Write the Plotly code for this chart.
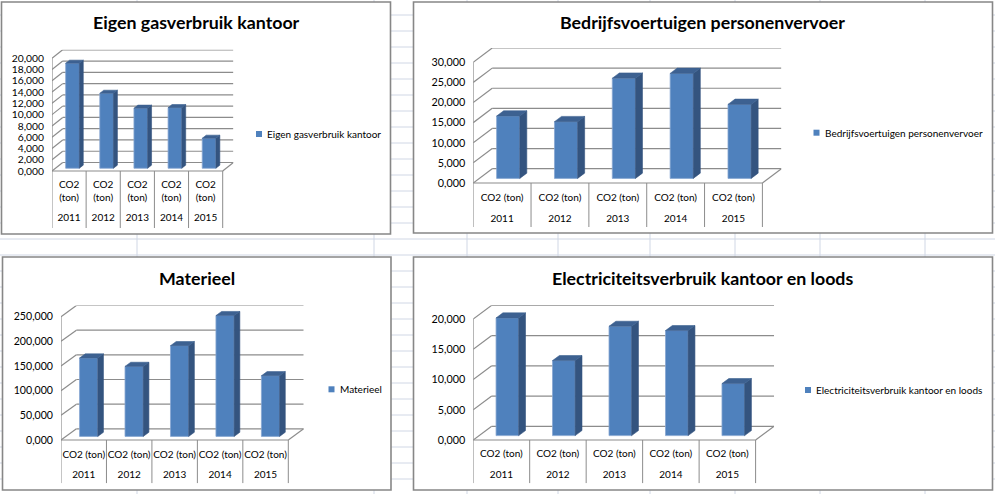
import plotly.graph_objects as go

W, H = 995, 494

# ---------------- data ----------------
years = ["2011", "2012", "2013", "2014", "2015"]
unit_label = "CO2 (ton)"
titles = ["Eigen gasverbruik kantoor",
          "Bedrijfsvoertuigen personenvervoer",
          "Materieel",
          "Electriciteitsverbruik kantoor en loods"]
gasverbruik = [18.63, 13.3, 10.65, 10.76, 5.32]
voertuigen = [15.5, 14.1, 24.9, 26.1, 18.4]
materieel = [159, 142, 184, 245, 123]
electriciteit = [19.45, 12.4, 18.07, 17.36, 8.6]
axis_max = [20, 30, 250, 20]
axis_step = [2, 5, 50, 5]
series = [gasverbruik, voertuigen, materieel, electriciteit]

# ---------------- layout geometry (pixels) ----------------
specs = [
    dict(box=(1.5, 2, 390.5, 234), FL=52, FR=222.7, FB=171, ftop=58.3, ox=10.7, oy=8.5,
         tbot=228, r1=192.5, r2=219, title=(196, 22), legend=(259, 134), wrap=True, tfs=10.3),
    dict(box=(413.5, 2, 992.5, 233), FL=473.2, FR=762.4, FB=183, ftop=62.3, ox=19, oy=14.3,
         tbot=227, r1=198, r2=219, title=(702, 21.7), legend=(816.5, 132.7), wrap=False, tfs=10.8),
    dict(box=(2.5, 257, 391, 490), FL=61, FR=288.3, FB=440, ftop=316.7, ox=15.4, oy=11.2,
         tbot=483.3, r1=455, r2=475.7, title=(196.7, 278.3), legend=(331.5, 389.3), wrap=False, tfs=10.6),
    dict(box=(413.5, 257, 992.5, 490), FL=473.2, FR=755.6, FB=440, ftop=319, ox=18.5, oy=13.7,
         tbot=483.3, r1=455, r2=475.7, title=(702, 278.3), legend=(808, 390), wrap=False, tfs=10.8),
]

FONT = "Lato"
FRONT = "#4F81BD"
SIDE = "#34547F"
TOP = "#3D6191"
EDGE = "#86A6D2"
GRID = "#8C8C8C"
SHEET = "#D0D7E5"
BORDER = "#878787"
D1, D2, BW = 0.32, 0.69, 0.40


def px(x):
    return x / W


def py(y):
    return 1 - y / H


fig = go.Figure()
shapes = []
annotations = []

# spreadsheet grid behind the charts
for yy in range(15, H, 16):
    shapes.append(dict(type="line", xref="paper", yref="paper", x0=0, x1=1, y0=py(yy), y1=py(yy),
                       line=dict(color=SHEET, width=1), layer="below"))
for xx in [137, 374, 467, 558, 650, 735, 820, 925]:
    shapes.append(dict(type="line", xref="paper", yref="paper", x0=px(xx), x1=px(xx), y0=0, y1=1,
                       line=dict(color=SHEET, width=1), layer="below"))
# chart boxes
for s in specs:
    x0, y0, x1, y1 = s["box"]
    shapes.append(dict(type="rect", xref="paper", yref="paper", x0=px(x0), x1=px(x1), y0=py(y1), y1=py(y0),
                       fillcolor="white", line=dict(color=BORDER, width=1.6), layer="below"))

for i, s in enumerate(specs):
    vals = series[i]
    vmax = axis_max[i]
    step = axis_step[i]
    n = len(years)
    suf = "" if i == 0 else str(i + 1)
    xa, ya = "x" + suf, "y" + suf
    pcx = (s["FR"] - s["FL"]) / n
    ppv = (s["FB"] - s["ftop"]) / vmax
    dxc = s["ox"] / pcx
    dyv = s["oy"] / ppv
    ylow = -(s["tbot"] - s["FB"]) / ppv
    ytop = vmax + dyv
    ticks = [k * step for k in range(int(round(vmax / step)) + 1)]

    fig.layout["xaxis" + suf] = dict(domain=[px(s["FL"]), px(s["FR"] + s["ox"])],
                                     range=[-0.5, n - 0.5 + dxc], visible=False, anchor=ya, fixedrange=True)
    fig.layout["yaxis" + suf] = dict(domain=[py(s["tbot"]), py(s["ftop"] - s["oy"])],
                                     range=[ylow, ytop], tickvals=ticks, tickformat=".3f",
                                     showgrid=False, zeroline=False, showline=False, ticks="",
                                     ticklabelstandoff=7, anchor=xa, fixedrange=True,
                                     tickfont=dict(family=FONT, size=s["tfs"], color="#000000"))

    def seg(xa0, ya0, xa1, ya1, color=GRID, width=1.2):
        shapes.append(dict(type="line", xref=xa, yref=ya, x0=xa0, y0=ya0, x1=xa1, y1=ya1,
                           line=dict(color=color, width=width), layer="below"))

    # back wall gridlines and side wall diagonals
    for v in ticks:
        seg(-0.5 + dxc, v + dyv, n - 0.5 + dxc, v + dyv)
        seg(-0.5, v, -0.5 + dxc, v + dyv)
    seg(-0.5, 0, -0.5, vmax)
    # floor
    seg(-0.5, 0, n - 0.5, 0)
    seg(n - 0.5, 0, n - 0.5 + dxc, dyv)
    # category table
    for k in range(n + 1):
        seg(k - 0.5, 0, k - 0.5, ylow, width=1)

    # bars: front faces
    fig.add_trace(go.Bar(x=[k + D1 * dxc for k in range(n)], y=vals, base=D1 * dyv, width=BW,
                         marker=dict(color=FRONT, line=dict(color=EDGE, width=0.8)),
                         xaxis=xa, yaxis=ya, showlegend=False, hoverinfo="skip"))
    sx, sy, tx, ty = [], [], [], []
    for k, v in enumerate(vals):
        xr1 = k + BW / 2 + D1 * dxc
        xr2 = k + BW / 2 + D2 * dxc
        xl1 = k - BW / 2 + D1 * dxc
        xl2 = k - BW / 2 + D2 * dxc
        sx += [xr1, xr2, xr2, xr1, xr1, None]
        sy += [D1 * dyv, D2 * dyv, v + D2 * dyv, v + D1 * dyv, D1 * dyv, None]
        tx += [xl1, xr1, xr2, xl2, xl1, None]
        ty += [v + D1 * dyv, v + D1 * dyv, v + D2 * dyv, v + D2 * dyv, v + D1 * dyv, None]
    fig.add_trace(go.Scatter(x=sx, y=sy, fill="toself", fillcolor=SIDE, mode="lines",
                             line=dict(color=SIDE, width=0.6), xaxis=xa, yaxis=ya,
                             showlegend=False, hoverinfo="skip"))
    fig.add_trace(go.Scatter(x=tx, y=ty, fill="toself", fillcolor=TOP, mode="lines",
                             line=dict(color=TOP, width=0.6), xaxis=xa, yaxis=ya,
                             showlegend=False, hoverinfo="skip"))

    # category labels
    lab = unit_label.replace(" ", "<br>") if s["wrap"] else unit_label
    fig.add_trace(go.Scatter(x=list(range(n)), y=[-(s["r1"] - s["FB"]) / ppv] * n, mode="text",
                             text=[lab] * n, textfont=dict(family=FONT, size=10, color="#000000"),
                             xaxis=xa, yaxis=ya, showlegend=False, hoverinfo="skip"))
    fig.add_trace(go.Scatter(x=list(range(n)), y=[-(s["r2"] - s["FB"]) / ppv] * n, mode="text",
                             text=years, textfont=dict(family=FONT, size=10, color="#000000"),
                             xaxis=xa, yaxis=ya, showlegend=False, hoverinfo="skip"))

    # title
    annotations.append(dict(xref="paper", yref="paper", x=px(s["title"][0]), y=py(s["title"][1]),
                            text="<b>" + titles[i] + "</b>", showarrow=False, xanchor="center",
                            yanchor="middle", font=dict(family=FONT, size=17.8, color="#000000")))
    # legend
    lx, ly = s["legend"]
    shapes.append(dict(type="rect", xref="paper", yref="paper", x0=px(lx - 3), x1=px(lx + 3),
                       y0=py(ly + 3), y1=py(ly - 3), fillcolor=FRONT, line=dict(width=0)))
    annotations.append(dict(xref="paper", yref="paper", x=px(lx + 6), y=py(ly), text=titles[i],
                            showarrow=False, xanchor="left", yanchor="middle",
                            font=dict(family=FONT, size=10, color="#000000")))

fig.update_layout(width=W, height=H, margin=dict(l=0, r=0, t=0, b=0),
                  paper_bgcolor="white", plot_bgcolor="rgba(0,0,0,0)",
                  shapes=shapes, annotations=annotations, separators=",.",
                  barmode="overlay", showlegend=False)

fig.write_html("out.html", config={"displayModeBar": False},
               post_script="document.body.style.margin='0';document.body.style.overflow='hidden';")
